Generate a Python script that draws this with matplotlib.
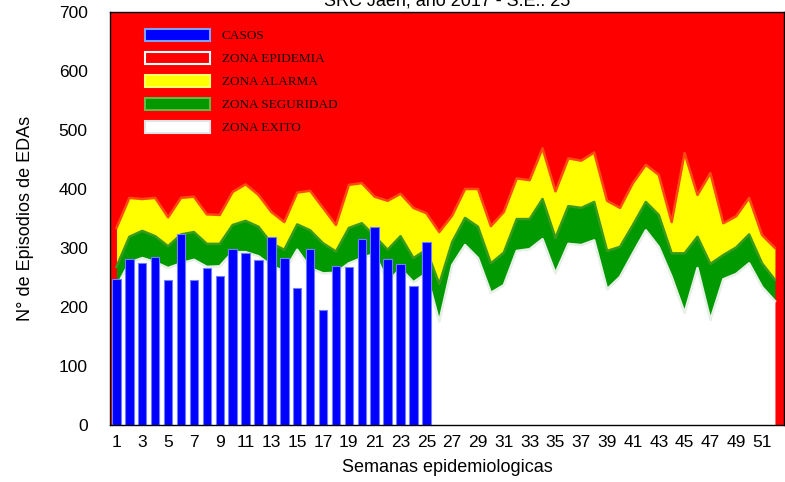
import numpy as np
from matplotlib import pyplot as plt
from matplotlib.patches import Patch

weeks = list(range(1, 53))

casos = [247, 281, 275, 285, 245, 324, 245, 266, 252, 298, 292, 280, 319,
         283, 232, 298, 195, 269, 268, 315, 335, 281, 273, 235, 310]

zona_exito = [234, 275, 283, 276, 266, 274, 280, 268, 269, 293, 293, 286, 270,
              260, 297, 266, 257, 258, 274, 283, 290, 242, 265, 242, 257, 175,
              271, 305, 283, 224, 237, 295, 298, 315, 257, 307, 305, 313, 230,
              251, 291, 330, 302, 251, 190, 266, 178, 247, 256, 274, 234, 210]

zona_seguridad = [268, 319, 329, 320, 303, 323, 327, 307, 307, 339, 346, 336, 308,
                  297, 340, 330, 308, 294, 334, 342, 320, 297, 320, 283, 297, 239,
                  310, 351, 336, 274, 292, 349, 349, 383, 317, 371, 368, 378, 295,
                  302, 339, 378, 356, 291, 291, 319, 273, 288, 301, 323, 274, 246]

zona_alarma = [334, 385, 383, 385, 352, 385, 387, 357, 356, 395, 408, 390, 361,
               344, 394, 397, 368, 339, 407, 410, 387, 380, 392, 368, 359, 327,
               355, 400, 400, 337, 361, 418, 415, 469, 396, 452, 448, 462, 380,
               368, 410, 441, 424, 344, 461, 390, 427, 342, 354, 385, 322, 300]

tick_weeks = list(range(1, 52, 2))

RED = '#ff0000'
YELLOW = '#ffff00'
GREEN = '#009900'
BLUE = '#0000ff'

plt.rcParams['font.family'] = ['Liberation Sans', 'DejaVu Sans']

fig = plt.figure(figsize=(7.85, 4.82), dpi=100)
ax = fig.add_axes([110 / 785, 1 - 425 / 482, 674 / 785, 413 / 482])
ax.set_facecolor(RED)

ax.fill_between(weeks, zona_seguridad, zona_alarma, color=YELLOW, lw=0, zorder=1)
ax.fill_between(weeks, zona_exito, zona_seguridad, color=GREEN, lw=0, zorder=1)
ax.fill_between(weeks, 0, zona_exito, color='white', lw=0, zorder=1)
ax.plot(weeks, zona_alarma, color='#ff4a10', lw=1.8, zorder=2)
ax.plot(weeks, zona_seguridad, color='#3a9a1a', lw=1.8, zorder=2)
ax.plot(weeks, zona_exito, color='#e6f0e6', lw=1.8, zorder=2)

ax.bar(np.arange(1, len(casos) + 1), casos, width=0.65, color=BLUE,
       edgecolor='#6f7fff', lw=0.8, zorder=3)

ax.set_xlim(0.5, 52.7)
ax.set_ylim(0, 700)
ax.set_xticks(tick_weeks)
ax.set_yticks(range(0, 701, 100))
ax.tick_params(axis='both', length=0, labelsize=12.5)
ax.tick_params(axis='y', pad=16)
ax.tick_params(axis='x', pad=7)
for s in ax.spines.values():
    s.set_color('black')
    s.set_linewidth(1.0)
    s.set_zorder(5)

ax.set_xlabel('Semanas epidemiologicas', fontsize=13, labelpad=7)
ax.set_ylabel('N° de Episodios de EDAs', fontsize=13, labelpad=18)
fig.text(0.57, 1 - 1 / 482, 'SRC Jaén, año 2017 - S.E.: 25', ha='center',
         va='center', fontsize=13)

handles = [
    Patch(facecolor=BLUE, edgecolor='#7f9fff', lw=1.5),
    Patch(facecolor=RED, edgecolor='white', lw=1.5),
    Patch(facecolor=YELLOW, edgecolor='#ffff66', lw=1.5),
    Patch(facecolor=GREEN, edgecolor='#66b844', lw=1.5),
    Patch(facecolor='white', edgecolor='#e4e4e4', lw=1.5),
]
labels = ['CASOS', 'ZONA EPIDEMIA', 'ZONA ALARMA', 'ZONA SEGURIDAD', 'ZONA EXITO']
leg = ax.legend(handles, labels, loc='upper left',
                bbox_to_anchor=(145 / 785, 1 - 29 / 482),
                bbox_transform=fig.transFigure, frameon=False,
                prop={'family': 'Liberation Serif', 'size': 9.5},
                handlelength=4.9, handleheight=1.0, labelspacing=0.72,
                handletextpad=0.9, borderpad=0, borderaxespad=0)
for t in leg.get_texts():
    t.set_color('#1a0000')
leg.set_zorder(6)

fig.savefig('out.png', dpi=100)
